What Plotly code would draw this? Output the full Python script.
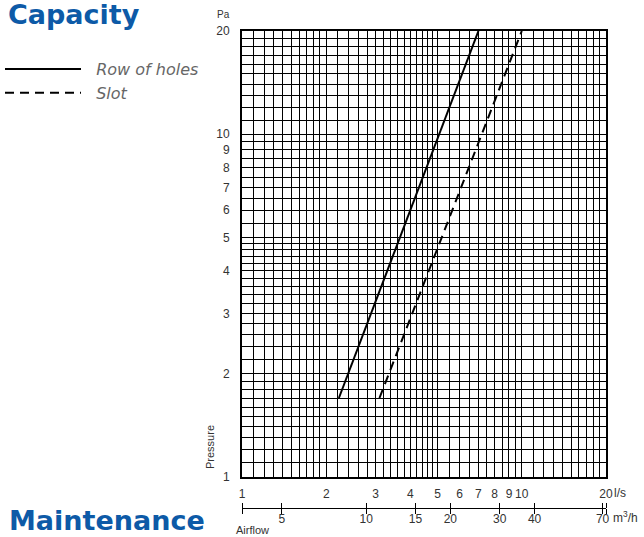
import math
import plotly.graph_objects as go

# ---- data ----
flow_row_ls = [2.22, 7.0]       # l/s
pres_row_pa = [1.70, 20.0]      # Pa
flow_slot_ls = [3.1, 10.0]
pres_slot_pa = [1.70, 20.0]

# tick labels
x_ticks = [1, 2, 3, 4, 5, 6, 7, 8, 9, 10, 20]
x_ticktext = ["1", "2", "3", "4", "5", "6", "7", "8", "9", "10", "20"]
y_ticks = [1, 2, 3, 4, 5, 6, 7, 8, 9, 10, 20]
y_ticktext = ["1", "2", "3", "4", "5", "6", "7", "8", "9", "10", "20"]
m3h_ticks = [5, 10, 15, 20, 30, 40, 70]
m3h_ticktext = ["5", "10", "15", "20", "30", "40", "70"]
m3h_ends = [3.6, 72]            # ends of the m3/h scale (= 1 and 20 l/s)

# fine grid values (same on both axes)
grid_vals = [1.1, 1.2, 1.3, 1.4, 1.5, 1.6, 1.7, 1.8, 1.9,
             2.2, 2.4, 2.6, 2.8, 3.2, 3.4, 3.6, 3.8, 4.2, 4.4, 4.6, 4.8,
             5.5, 6.5, 7.5, 8.5, 9.5,
             11, 12, 13, 14, 15, 16, 17, 18, 19]

W, H = 644, 537
ML, MR, MT, MB = 242, 38, 31, 20
PW = W - ML - MR
PH = H - MT - MB
def px(x):
    return (x - ML) / PW
def py(y):
    return (H - MB - y) / PH

BLUE = "#0d5aa7"
TXT = "#333333"
AXF = dict(family="Liberation Sans, Arial, sans-serif", size=12, color=TXT)

fig = go.Figure()
fig.add_trace(go.Scatter(x=flow_row_ls, y=pres_row_pa, mode="lines",
                         name="\u00a0\u00a0Row of holes",
                         line=dict(color="black", width=2)))
fig.add_trace(go.Scatter(x=flow_slot_ls, y=pres_slot_pa, mode="lines",
                         name="\u00a0\u00a0Slot",
                         line=dict(color="black", width=2, dash="9px,6px")))
# helper (empty) traces so that the m3/h scale axes are drawn
for ax in ["x2", "x3", "x4"]:
    fig.add_trace(go.Scatter(x=[], y=[], xaxis=ax, yaxis="y",
                             showlegend=False, hoverinfo="skip"))

ydom0 = py(477)
axpos = py(508)
m3h_range = [math.log10(m3h_ends[0]), math.log10(m3h_ends[1])]

grid_common = dict(showgrid=True, gridcolor="black", gridwidth=1, automargin=False)

fig.update_layout(
    width=W, height=H,
    margin=dict(l=ML, r=MR, t=MT, b=MB, autoexpand=False),
    paper_bgcolor="white", plot_bgcolor="white",
    showlegend=True,
    legend=dict(xref="paper", yref="paper", x=px(0), y=py(52),
                xanchor="left", yanchor="top", itemwidth=76,
                font=dict(family="DejaVu Sans", size=16, color="#666666", style="italic"),
                bgcolor="rgba(0,0,0,0)", borderwidth=0, tracegroupgap=0),
    xaxis=dict(type="log", range=[0, math.log10(20)], domain=[0, 1],
               tickmode="array", tickvals=x_ticks, ticktext=x_ticktext,
               ticks="", ticklabelstandoff=5, tickfont=AXF,
               showline=True, linecolor="black", linewidth=2, mirror=True,
               minor=dict(tickmode="array", tickvals=grid_vals, showgrid=True,
                          gridcolor="black", gridwidth=1, ticks=""),
               anchor="y", **grid_common),
    yaxis=dict(type="log", range=[0, math.log10(20)], domain=[ydom0, 1],
               tickmode="array", tickvals=y_ticks, ticktext=y_ticktext,
               ticks="", ticklabelstandoff=8, tickfont=AXF,
               showline=True, linecolor="black", linewidth=2, mirror=True,
               minor=dict(tickmode="array", tickvals=grid_vals, showgrid=True,
                          gridcolor="black", gridwidth=1, ticks=""),
               anchor="x", **grid_common),
    xaxis2=dict(type="log", range=m3h_range,
                overlaying="x", anchor="free", position=axpos, side="bottom",
                tickmode="array", tickvals=m3h_ticks, ticktext=m3h_ticktext,
                ticks="", ticklabelstandoff=0,
                tickfont=AXF, showgrid=False, showline=True, automargin=False,
                linecolor="black", linewidth=1),
    xaxis3=dict(type="log", range=m3h_range,
                overlaying="x", anchor="free", position=axpos, side="top",
                tickmode="array", tickvals=m3h_ticks + m3h_ends, showticklabels=False,
                ticks="outside", ticklen=5, tickcolor="black", tickwidth=1,
                showgrid=False, showline=False, automargin=False),
    xaxis4=dict(type="log", range=m3h_range,
                overlaying="x", anchor="free", position=axpos, side="bottom",
                tickmode="array", tickvals=m3h_ticks + m3h_ends, showticklabels=False,
                ticks="outside", ticklen=5, tickcolor="black", tickwidth=1,
                showgrid=False, showline=False, automargin=False),
)

ann = []
ann.append(dict(text="<b>Capacity</b>", x=px(6), y=py(15), xref="paper", yref="paper",
                xanchor="left", yanchor="middle", showarrow=False,
                font=dict(family="DejaVu Sans", size=27, color=BLUE)))
ann.append(dict(text="<b>Maintenance</b>", x=px(7), y=py(520), xref="paper", yref="paper",
                xanchor="left", yanchor="middle", showarrow=False,
                font=dict(family="DejaVu Sans", size=27, color=BLUE)))
ann.append(dict(text="Pa", x=px(223), y=py(15), xref="paper", yref="paper",
                xanchor="center", yanchor="middle", showarrow=False,
                font=dict(family="Liberation Sans, Arial", size=10, color=TXT)))
ann.append(dict(text="Pressure", x=px(210), y=py(447), xref="paper", yref="paper",
                xanchor="center", yanchor="middle", showarrow=False, textangle=-90,
                font=dict(family="Liberation Sans, Arial", size=11, color=TXT)))
ann.append(dict(text="Airflow", x=px(234), y=py(530), xref="paper", yref="paper",
                xanchor="left", yanchor="middle", showarrow=False,
                font=dict(family="Liberation Sans, Arial", size=11, color=TXT)))
ann.append(dict(text="l/s", x=px(612), y=py(493), xref="paper", yref="paper",
                xanchor="left", yanchor="middle", showarrow=False,
                font=AXF))
ann.append(dict(text="m<sup>3</sup>/h", x=px(611), y=py(517), xref="paper", yref="paper",
                xanchor="left", yanchor="middle", showarrow=False,
                font=AXF))
fig.update_layout(annotations=ann)

fig.write_html("out.html", config={"displayModeBar": False},
               post_script="document.body.style.margin='0px';")
